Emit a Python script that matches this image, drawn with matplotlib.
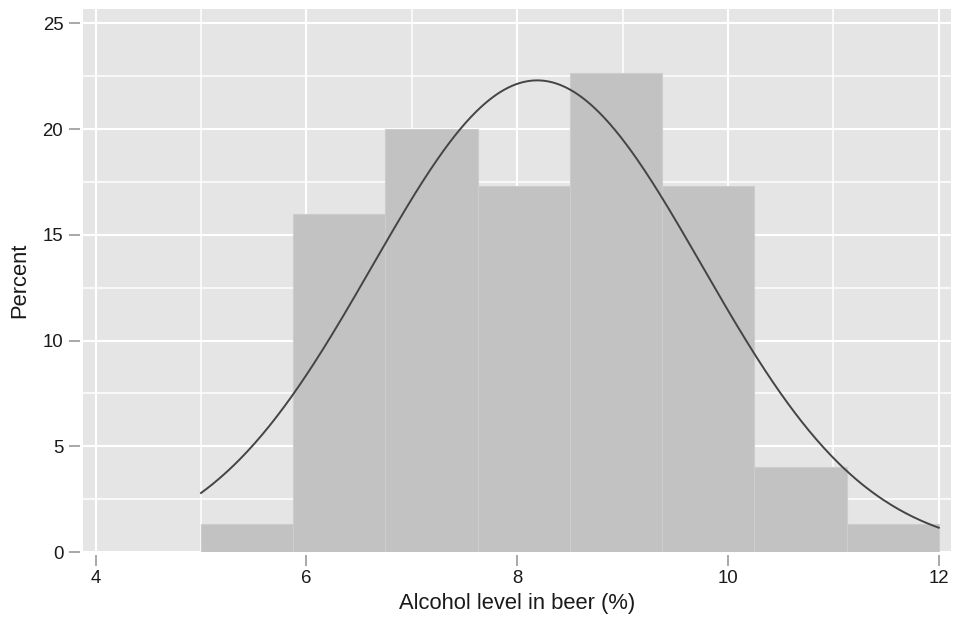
import numpy as np
import matplotlib.pyplot as plt

plt.rcParams['font.family'] = ['Liberation Sans', 'DejaVu Sans']

# histogram of beer alcohol content, 8 bins from 5 to 12
bin_start = 5.0
bin_end = 12.0
counts = [1, 12, 15, 13, 17, 13, 3, 1]

# fitted normal overlay
mean_alc = 8.19
sd_alc = 1.565

x_ticks = [4, 6, 8, 10, 12]
y_ticks = [0, 5, 10, 15, 20, 25]

n_bins = len(counts)
width = (bin_end - bin_start) / n_bins
lefts = bin_start + width * np.arange(n_bins)
percent = 100 * np.array(counts) / sum(counts)

fig = plt.figure(figsize=(9.55, 6.21), dpi=100)
ax = fig.add_axes([0.0866, 0.111, 0.9092, 0.8745])
ax.set_facecolor('#e5e5e5')

ax.bar(lefts, percent, width=width, align='edge', color='#c2c2c2',
       edgecolor='#cdcdcd', linewidth=0.8, zorder=2)

xs = np.linspace(bin_start, bin_end, 400)
dens = 100 * width * np.exp(-0.5 * ((xs - mean_alc) / sd_alc) ** 2) / (sd_alc * np.sqrt(2 * np.pi))
ax.plot(xs, dens, color='#444444', linewidth=1.4, zorder=3)

ax.set_xlim(3.877, 12.116)
ax.set_ylim(0, 25.68)
ax.set_xticks(x_ticks)
ax.set_yticks(y_ticks)
ax.set_xticks(np.arange(5, 12, 2), minor=True)
ax.set_yticks(np.arange(2.5, 25, 5), minor=True)
ax.grid(which='major', color='white', linewidth=1.5, zorder=1)
ax.grid(which='minor', color='white', linewidth=1.1, zorder=1)
ax.set_axisbelow(True)
ax.tick_params(which='minor', length=0)
ax.tick_params(which='major', length=8, width=1.2, color='#999999',
               labelsize=13.4, labelcolor='#1a1a1a')
ax.tick_params(axis='x', pad=3)
ax.tick_params(axis='y', pad=4)

for side in ['top', 'right']:
    ax.spines[side].set_visible(False)
for side in ['left', 'bottom']:
    ax.spines[side].set_position(('outward', 2))
    ax.spines[side].set_visible(False)

ax.set_xlabel('Alcohol level in beer (%)', fontsize=15.8, color='#1a1a1a', labelpad=4)
ax.set_ylabel('Percent', fontsize=15.8, color='#1a1a1a', labelpad=9)

fig.savefig('out.png', dpi=100)
